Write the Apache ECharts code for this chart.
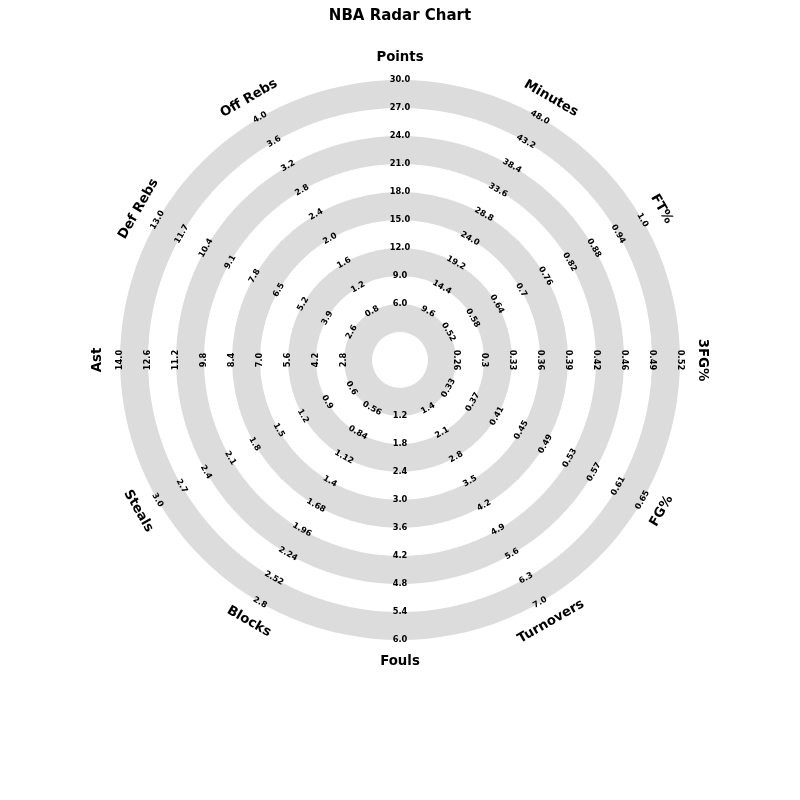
<!DOCTYPE html>
<html>
<head>
<meta charset="utf-8">
<script src="https://cdn.jsdelivr.net/npm/echarts@6/dist/echarts.min.js"></script>
<style>
  html, body { margin: 0; padding: 0; background: #ffffff; }
  #chart { width: 800px; height: 800px; }
</style>
</head>
<body>
<div id="chart"></div>
<script>
// Axes listed counter-clockwise starting from the top (ECharts radar order)
const categories = ['Points', 'Off Rebs', 'Def Rebs', 'Ast', 'Steals', 'Blocks',
                    'Fouls', 'Turnovers', 'FG%', '3FG%', 'FT%', 'Minutes'];

// value at the centre of the radar and at the outer edge, per axis
const rangeMin = [0, 0, 0, 0, 0, 0, 0, 0, 0.25, 0.195, 0.40, 0];
const rangeMax = [30, 4.0, 13.0, 14.0, 3.0, 2.8, 6.0, 7.0, 0.65, 0.52, 1.0, 48.0];

// tick labels drawn along each axis (rings 2..10, inner to outer)
const labelsPoints    = ['6.0', '9.0', '12.0', '15.0', '18.0', '21.0', '24.0', '27.0', '30.0'];
const labelsOffRebs   = ['0.8', '1.2', '1.6', '2.0', '2.4', '2.8', '3.2', '3.6', '4.0'];
const labelsDefRebs   = ['2.6', '3.9', '5.2', '6.5', '7.8', '9.1', '10.4', '11.7', '13.0'];
const labelsAst       = ['2.8', '4.2', '5.6', '7.0', '8.4', '9.8', '11.2', '12.6', '14.0'];
const labelsSteals    = ['0.6', '0.9', '1.2', '1.5', '1.8', '2.1', '2.4', '2.7', '3.0'];
const labelsBlocks    = ['0.56', '0.84', '1.12', '1.4', '1.68', '1.96', '2.24', '2.52', '2.8'];
const labelsFouls     = ['1.2', '1.8', '2.4', '3.0', '3.6', '4.2', '4.8', '5.4', '6.0'];
const labelsTurnovers = ['1.4', '2.1', '2.8', '3.5', '4.2', '4.9', '5.6', '6.3', '7.0'];
const labelsFG        = ['0.33', '0.37', '0.41', '0.45', '0.49', '0.53', '0.57', '0.61', '0.65'];
const labels3FG       = ['0.26', '0.3', '0.33', '0.36', '0.39', '0.42', '0.46', '0.49', '0.52'];
const labelsFT        = ['0.52', '0.58', '0.64', '0.7', '0.76', '0.82', '0.88', '0.94', '1.0'];
const labelsMinutes   = ['9.6', '14.4', '19.2', '24.0', '28.8', '33.6', '38.4', '43.2', '48.0'];

const tickLabels = [labelsPoints, labelsOffRebs, labelsDefRebs, labelsAst, labelsSteals,
                    labelsBlocks, labelsFouls, labelsTurnovers, labelsFG, labels3FG,
                    labelsFT, labelsMinutes];

const SPLITS = 10;
const FONT = 'DejaVu Sans';

function tangentRotation(i) {
  // direction of axis i in degrees (counter-clockwise from east)
  let theta = (90 + 360 / categories.length * i) % 360;
  let rot = theta <= 180 ? theta - 90 : theta + 90;
  rot = ((rot + 180) % 360 + 360) % 360 - 180;
  if (rot === -180) rot = 0;
  return rot;
}

const indicator = categories.map(function (name, i) {
  const mn = rangeMin[i], mx = rangeMax[i], labels = tickLabels[i];
  const rot = tangentRotation(i);
  return {
    name: name,
    min: mn,
    max: mx,
    nameRotate: rot,
    axisLabel: {
      rotate: rot,
      formatter: function (value) {
        const k = Math.round((value - mn) / (mx - mn) * SPLITS);
        return k >= 2 && k - 2 < labels.length ? labels[k - 2] : '';
      }
    }
  };
});

const chart = echarts.init(document.getElementById('chart'), null, { renderer: 'canvas' });
chart.setOption({
  backgroundColor: '#ffffff',
  animation: false,
  title: {
    text: 'NBA Radar Chart',
    left: 'center',
    top: 4,
    textStyle: { fontFamily: FONT, fontWeight: 'bold', fontSize: 15, color: '#000000' }
  },
  radar: {
    center: [400, 360],
    radius: 280,
    shape: 'circle',
    startAngle: 90,
    splitNumber: SPLITS,
    indicator: indicator,
    nameGap: 22,
    axisName: {
      color: '#000000',
      fontFamily: FONT,
      fontWeight: 'bold',
      fontSize: 13.3,
      align: 'center',
      verticalAlign: 'middle'
    },
    axisLine: { show: false },
    axisTick: { show: false },
    splitLine: { show: false },
    splitArea: {
      show: true,
      areaStyle: { color: ['#ffffff', '#dcdcdc'] }
    },
    axisLabel: {
      show: true,
      color: '#000000',
      fontFamily: FONT,
      fontWeight: 'bold',
      fontSize: 8.3,
      margin: 0,
      align: 'center',
      verticalAlign: 'middle'
    }
  },
  series: [{ type: 'radar', data: [] }]
});
</script>
</body>
</html>
